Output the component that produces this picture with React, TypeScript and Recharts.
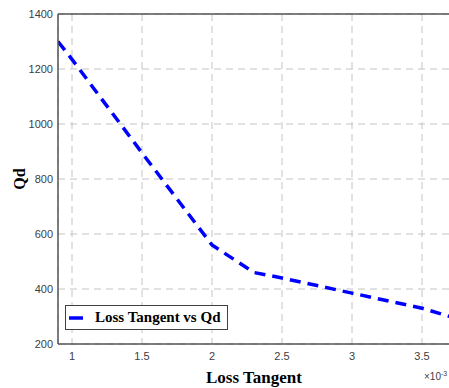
import React from 'react';
import { LineChart, Line, XAxis, YAxis, CartesianGrid, ReferenceLine } from 'recharts';

const lossTangent = [0.9, 1.0, 1.5, 2.0, 2.3, 2.5, 3.0, 3.5, 3.7];
const qd = [1300, 1235, 895, 560, 460, 440, 385, 330, 300];
const xTicks = [1, 1.5, 2, 2.5, 3, 3.5];
const yTicks = [200, 400, 600, 800, 1000, 1200, 1400];

const data = lossTangent.map((x, i) => ({ x, qd: qd[i] }));

const serif = '"Liberation Serif", "Times New Roman", serif';
const sans = '"Liberation Sans", Arial, sans-serif';

// legend drawn as a plain box over the plot (MATLAB style, bottom-left)
const LegendBox = () => (
  <div
    style={{
      position: 'absolute',
      left: 65,
      top: 305,
      width: 161,
      height: 23,
      border: '1px solid #404040',
      background: '#fff',
      display: 'flex',
      alignItems: 'center',
    }}
  >
    <svg width={28} height={23}>
      <line x1={3} y1={12} x2={17} y2={12} stroke="#0000ff" strokeWidth={3.5} />
    </svg>
    <span style={{ fontFamily: serif, fontWeight: 'bold', fontSize: 15, color: '#000', marginLeft: 1 }}>
      Loss Tangent vs Qd
    </span>
  </div>
);

const App: React.FC = () => {
  return (
    <div style={{ position: 'fixed', left: 0, top: 0, width: 449, height: 388, overflow: 'hidden', background: '#fff' }}>
      <LineChart width={452} height={388} data={data} margin={{ top: 14, right: 2, left: 0, bottom: 0 }}>
        <CartesianGrid stroke="#c4c4c4" strokeDasharray="7 5" strokeWidth={1} />
        <XAxis
          dataKey="x"
          type="number"
          domain={[0.9, 3.7]}
          ticks={xTicks}
          allowDataOverflow
          height={44}
          tickLine={false}
          tickSize={0}
          tickMargin={8}
          axisLine={{ stroke: '#555', strokeWidth: 1.5 }}
          tick={{ fill: '#404040', fontSize: 11, fontFamily: sans }}
          label={{
            value: 'Loss Tangent',
            position: 'insideBottom',
            offset: 5,
            style: { fontFamily: serif, fontWeight: 'bold', fontSize: 17, fill: '#000' },
          }}
        />
        <YAxis
          type="number"
          domain={[200, 1400]}
          ticks={yTicks}
          width={58}
          tickLine={false}
          tickSize={0}
          tickMargin={5}
          axisLine={{ stroke: '#555', strokeWidth: 1.5 }}
          tick={{ fill: '#404040', fontSize: 11, fontFamily: sans }}
          label={{
            value: 'Qd',
            angle: -90,
            position: 'insideLeft',
            offset: 19,
            style: { fontFamily: serif, fontWeight: 'bold', fontSize: 16, fill: '#000', textAnchor: 'middle' },
          }}
        />
        <ReferenceLine y={1400} stroke="#555" strokeWidth={1.5} />
        <Line
          type="linear"
          dataKey="qd"
          stroke="#0000ff"
          strokeWidth={3.5}
          strokeDasharray="11 7"
          dot={false}
          isAnimationActive={false}
        />
      </LineChart>
      <LegendBox />
      <div
        style={{
          position: 'absolute',
          left: 424,
          top: 370,
          fontFamily: sans,
          fontSize: 10,
          color: '#404040',
          whiteSpace: 'nowrap',
        }}
      >
        ×10<sup style={{ fontSize: 7 }}>-3</sup>
      </div>
    </div>
  );
};

export default App;
